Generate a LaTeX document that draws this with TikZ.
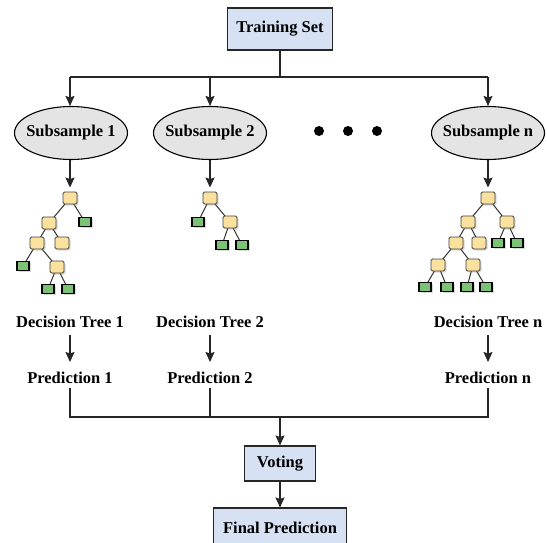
\documentclass[tikz,border=0pt]{standalone}
\usepackage{fontspec}
\setmainfont{Liberation Serif}
\usetikzlibrary{arrows.meta,shadows,backgrounds,shapes.geometric}
\definecolor{boxblue}{HTML}{D6E2F4}
\definecolor{ellgray}{HTML}{E4E4E4}
\definecolor{nodeyellow}{HTML}{FBE19E}
\definecolor{leafgreen}{HTML}{7CC274}
\tikzset{
  x=1pt, y=-1pt,
  txt/.style={font=\fontsize{16.5}{19}\selectfont\bfseries},
  blockbox/.style={draw=black!85, line width=1.1pt, fill=boxblue, txt, inner sep=0pt},
  subsample/.style={ellipse, draw=black, line width=1.1pt, fill=ellgray, txt,
    minimum width=113pt, minimum height=53pt, inner xsep=-12pt, inner ysep=0pt},
  label/.style={txt, inner sep=0pt, anchor=base},
  flow/.style={line width=1.1pt, draw=black!85},
  arr/.style={flow, -{Stealth[length=10pt,width=9pt,inset=1.5pt]}},
  ynode/.style={draw=black!75, line width=0.9pt, fill=nodeyellow, rounded corners=1.5pt,
    minimum width=14pt, minimum height=12pt, inner sep=0pt,
    drop shadow={opacity=0.3, shadow xshift=1.6pt, shadow yshift=-1.6pt}},
  gleaf/.style={draw=black, line width=1.6pt, fill=leafgreen,
    minimum width=12pt, minimum height=9pt, inner sep=0pt,
    drop shadow={opacity=0.3, shadow xshift=1.6pt, shadow yshift=-1.6pt}},
  edge/.style={line width=1pt, draw=black!80},
  dot/.style={circle, fill=black, minimum size=10pt, inner sep=0pt},
}
\begin{document}
\begin{tikzpicture}
\useasboundingbox (0,0) rectangle (547,542);
\clip (0,0) rectangle (547,542);

% top block and split
\node[blockbox, minimum width=105pt, minimum height=42pt] (train) at (280,29) {Training Set};
\coordinate (split) at (280,77);
\coordinate (sl) at (70,77);
\coordinate (sm) at (210,77);
\coordinate (sr) at (488,77);

\node[subsample] (s1) at (71,133) {Subsample 1};
\node[subsample] (s2) at (210,133) {Subsample 2};
\node[subsample] (sn) at (488,133) {Subsample n};

\node[dot] (d1) at (319,131) {};
\node[dot] (d2) at (348,131) {};
\node[dot] (d3) at (377,131) {};

\draw[flow] (train.south) -- (split);
\draw[flow] (sl) -- (sr);
\draw[arr] (sl) -- (s1.north -| sl);
\draw[arr] (sm) -- (s2.north);
\draw[arr] (sr) -- (sn.north);

% tree 1
\node[ynode] (a0) at (70,198) {};
\node[gleaf] (a1) at (85,222) {};
\node[ynode] (a2) at (49,223) {};
\node[ynode] (a3) at (37,243) {};
\node[ynode] (a4) at (62,243) {};
\node[gleaf] (a5) at (23,266) {};
\node[ynode] (a6) at (57,267) {};
\node[gleaf] (a7) at (48,289) {};
\node[gleaf] (a8) at (68,289) {};

% tree 2
\node[ynode] (b0) at (210,198) {};
\node[gleaf] (b1) at (198,222) {};
\node[ynode] (b2) at (230,222) {};
\node[gleaf] (b3) at (222,245) {};
\node[gleaf] (b4) at (242,245) {};

% tree n
\node[ynode] (c0) at (488,198) {};
\node[ynode] (c1) at (468,222) {};
\node[ynode] (c2) at (507,222) {};
\node[gleaf] (c3) at (498,243) {};
\node[gleaf] (c4) at (517,243) {};
\node[ynode] (c5) at (456,243) {};
\node[ynode] (c6) at (479,243) {};
\node[ynode] (c7) at (438,265) {};
\node[ynode] (c8) at (473,265) {};
\node[gleaf] (c9) at (425,287) {};
\node[gleaf] (c10) at (447,287) {};
\node[gleaf] (c11) at (467,287) {};
\node[gleaf] (c12) at (486,287) {};

\begin{scope}[on background layer]
  \draw[edge] (a0.center) -- (a1.center) (a0.center) -- (a2.center)
    (a2.center) -- (a3.center) (a2.center) -- (a4.center)
    (a3.center) -- (a5.center) (a3.center) -- (a6.center)
    (a6.center) -- (a7.center) (a6.center) -- (a8.center);
  \draw[edge] (b0.center) -- (b1.center) (b0.center) -- (b2.center)
    (b2.center) -- (b3.center) (b2.center) -- (b4.center);
  \draw[edge] (c0.center) -- (c1.center) (c0.center) -- (c2.center)
    (c2.center) -- (c3.center) (c2.center) -- (c4.center)
    (c1.center) -- (c5.center) (c1.center) -- (c6.center)
    (c5.center) -- (c7.center) (c5.center) -- (c8.center)
    (c7.center) -- (c9.center) (c7.center) -- (c10.center)
    (c8.center) -- (c11.center) (c8.center) -- (c12.center);
\end{scope}

\draw[arr] (s1.south -| a0) -- ([yshift=4pt]a0.north);
\draw[arr] (s2.south) -- ([yshift=4pt]b0.north);
\draw[arr] (sn.south) -- ([yshift=4pt]c0.north);

% tree and prediction labels (placed on their baselines)
\node[label] (dt1) at (70,327) {Decision Tree 1};
\node[label] (dt2) at (210,327) {Decision Tree 2};
\node[label] (dtn) at (488,327) {Decision Tree n};
\node[label] (p1) at (70,383) {Prediction 1};
\node[label] (p2) at (210,383) {Prediction 2};
\node[label] (pn) at (488,383) {Prediction n};

\draw[arr] ([yshift=-8pt]dt1.base) -- ([yshift=21pt]p1.base);
\draw[arr] ([yshift=-8pt]dt2.base) -- ([yshift=21pt]p2.base);
\draw[arr] ([yshift=-8pt]dtn.base) -- ([yshift=21pt]pn.base);

% merge
\coordinate (ml) at (70,417);
\coordinate (mm) at (210,417);
\coordinate (mc) at (280,417);
\coordinate (mr) at (488,417);
\draw[flow] ([yshift=-5pt]p1.base) -- (ml) -- (mr) -- ([yshift=-5pt]pn.base);
\draw[flow] ([yshift=-5pt]p2.base) -- (mm);

\node[blockbox, minimum width=71pt, minimum height=35pt] (vote) at (280,463.5) {Voting};
\node[blockbox, minimum width=133pt, minimum height=40pt] (final) at (280,528) {Final Prediction};

\draw[arr] (mc) -- (vote.north);
\draw[arr] (vote.south) -- (final.north);
\end{tikzpicture}
\end{document}
